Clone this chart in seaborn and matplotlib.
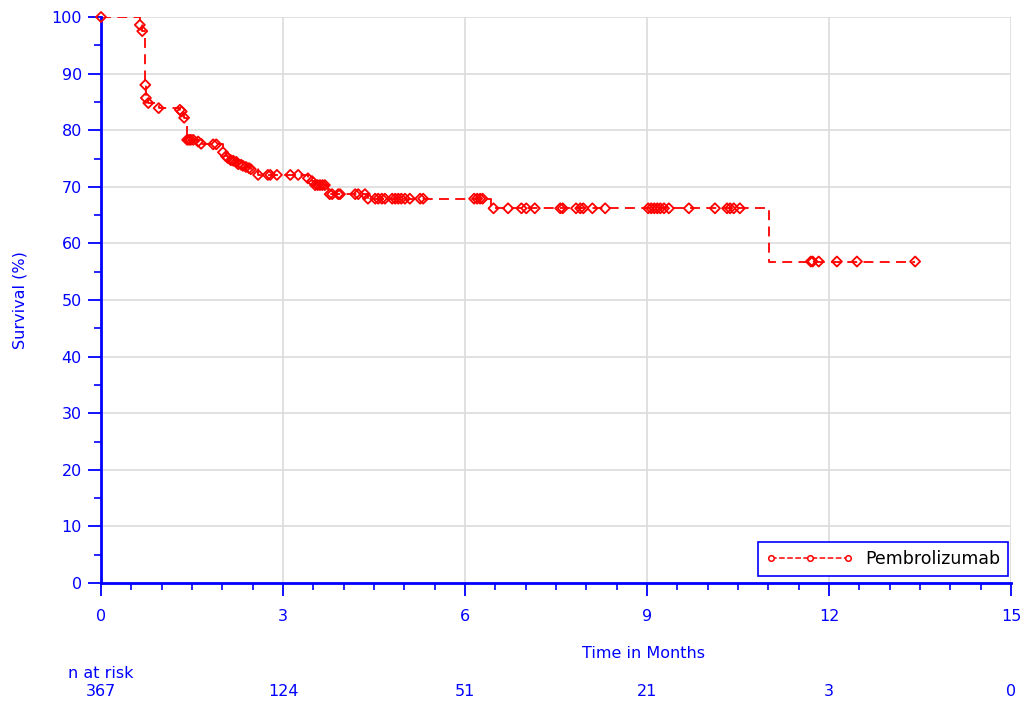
import matplotlib
matplotlib.use("Agg")
import matplotlib.pyplot as plt
import seaborn as sns
import numpy as np
import pandas as pd
from matplotlib.lines import Line2D
from matplotlib.ticker import MultipleLocator
from matplotlib.transforms import blended_transform_factory

# ---------------- data ----------------
step_times = [0.0, 0.64, 0.68, 0.73, 0.74, 0.78, 0.95, 1.30, 1.33, 1.37, 1.42, 1.60, 1.65,
              1.85, 2.01, 2.06, 2.09, 2.14, 2.18, 2.23, 2.26, 2.31, 2.34, 2.39, 2.44, 2.47,
              2.59, 3.41, 3.48, 3.53, 3.74, 4.40, 6.43, 11.01, 13.42]
step_surv = [100.0, 98.6, 97.5, 88.0, 85.7, 84.8, 83.9, 83.6, 83.3, 82.2, 78.3, 78.0, 77.6,
             77.5, 76.1, 75.4, 75.1, 74.7, 74.6, 74.4, 74.0, 73.9, 73.7, 73.5, 73.3, 73.1,
             72.1, 71.5, 71.0, 70.3, 68.7, 67.9, 66.2, 56.8, 56.8]

censor_times = [0.0, 0.64, 0.68, 0.73, 0.74, 0.78, 0.95, 1.30, 1.33, 1.37,
                1.42, 1.45, 1.48, 1.52, 1.60, 1.65, 1.85, 1.90,
                2.01, 2.06, 2.09, 2.14, 2.18, 2.23, 2.26, 2.31, 2.34, 2.39, 2.44, 2.47,
                2.59, 2.75, 2.79, 2.90, 3.12, 3.25,
                3.41, 3.48, 3.53, 3.57, 3.61, 3.65, 3.69,
                3.77, 3.81, 3.91, 3.94, 4.19, 4.24, 4.35,
                4.40, 4.52, 4.57, 4.63, 4.68, 4.80, 4.85, 4.90, 4.95, 5.01, 5.09, 5.26, 5.31,
                6.15, 6.20, 6.25, 6.29,
                6.47, 6.71, 6.93, 7.01, 7.15, 7.57, 7.61, 7.83, 7.90, 7.95, 8.10, 8.31,
                9.02, 9.07, 9.12, 9.17, 9.22, 9.28, 9.36, 9.69, 10.12, 10.32, 10.37, 10.43, 10.53,
                11.70, 11.73, 11.83, 12.13, 12.46, 13.42]
censor_surv = [100.0, 98.6, 97.5, 88.0, 85.7, 84.8, 83.9, 83.6, 83.3, 82.2,
               78.3, 78.3, 78.3, 78.3, 78.0, 77.6, 77.5, 77.5,
               76.1, 75.4, 75.1, 74.7, 74.6, 74.4, 74.0, 73.9, 73.7, 73.5, 73.3, 73.1,
               72.1, 72.1, 72.1, 72.1, 72.1, 72.1,
               71.5, 71.0, 70.3, 70.3, 70.3, 70.3, 70.3,
               68.7, 68.7, 68.7, 68.7, 68.7, 68.7, 68.7,
               67.9, 67.9, 67.9, 67.9, 67.9, 67.9, 67.9, 67.9, 67.9, 67.9, 67.9, 67.9, 67.9,
               67.9, 67.9, 67.9, 67.9,
               66.2, 66.2, 66.2, 66.2, 66.2, 66.2, 66.2, 66.2, 66.2, 66.2, 66.2, 66.2,
               66.2, 66.2, 66.2, 66.2, 66.2, 66.2, 66.2, 66.2, 66.2, 66.2, 66.2, 66.2, 66.2,
               56.8, 56.8, 56.8, 56.8, 56.8, 56.8]

risk_times = [0, 3, 6, 9, 12, 15]
risk_counts = ["367", "124", "51", "21", "3", "0"]

series_name = "Pembrolizumab"
x_ticks = [0, 3, 6, 9, 12, 15]
y_ticks = [0, 10, 20, 30, 40, 50, 60, 70, 80, 90, 100]

# ---------------- figure ----------------
BLUE = "#0000ff"
RED = "#ff0000"
plt.rcParams["font.family"] = ["DejaVu Sans"]

fig = plt.figure(figsize=(10.24, 7.02), dpi=100)
ax = fig.add_axes([101 / 1024, 119 / 702, 910 / 1024, 566 / 702])

step_df = pd.DataFrame({"t": step_times, "s": step_surv})
cens_df = pd.DataFrame({"t": censor_times, "s": censor_surv})

sns.lineplot(data=step_df, x="t", y="s", ax=ax, color=RED, lw=1.3,
             drawstyle="steps-post", sort=False, estimator=None, legend=False)
ax.lines[-1].set_dashes([5.5, 3.5])
sns.scatterplot(data=cens_df, x="t", y="s", ax=ax, marker="D", s=26,
                facecolor="none", edgecolor=RED, linewidth=1.3, clip_on=False,
                legend=False, zorder=4)

ax.set_xlim(0, 15)
ax.set_ylim(0, 100)
ax.set_xticks(x_ticks)
ax.set_yticks(y_ticks)
ax.xaxis.set_minor_locator(MultipleLocator(0.5))
ax.yaxis.set_minor_locator(MultipleLocator(5))
ax.set_xlabel("")
ax.set_ylabel("")

ax.grid(True, which="major", color="#dcdcdc", lw=1.2)
ax.set_axisbelow(True)

for side in ["top", "right"]:
    ax.spines[side].set_visible(False)
for side in ["left", "bottom"]:
    ax.spines[side].set_color(BLUE)
    ax.spines[side].set_linewidth(2.0)

ax.tick_params(axis="both", which="major", direction="out", length=9.5, width=1.3,
               color=BLUE, labelcolor=BLUE, labelsize=11.5)
ax.tick_params(axis="both", which="minor", direction="out", length=5, width=1.2, color=BLUE)
ax.tick_params(axis="x", which="major", pad=9.4)
ax.tick_params(axis="y", which="major", pad=4.3)

# axis labels
fig.text(20 / 1024, 1 - 300 / 702, "Survival (%)", rotation=90, color=BLUE,
         fontsize=11.5, ha="center", va="center")
trans = blended_transform_factory(ax.transData, ax.transAxes)
ax.text(8.95, (583 - 654) / 566, "Time in Months", transform=trans, color=BLUE,
        fontsize=11.5, ha="center", va="center")

# n at risk
ax.text(0.0, (583 - 673) / 566, "n at risk", transform=trans, color=BLUE,
        fontsize=11.5, ha="center", va="center")
for t, n in zip(risk_times, risk_counts):
    ax.text(t, (583 - 692) / 566, n, transform=trans, color=BLUE,
            fontsize=11.5, ha="center", va="center")

# legend
handle = Line2D([0], [0], color=RED, ls="--", lw=1.1, marker="o", markersize=4,
                mfc="white", mec=RED, mew=1.1)
leg = ax.legend([handle], [series_name], loc="lower right",
                bbox_to_anchor=(0.9967, 0.0124), borderaxespad=0, numpoints=3,
                handlelength=5.0, fontsize=12.5, fancybox=False, framealpha=1,
                edgecolor=BLUE, borderpad=0.45, handletextpad=0.7)
leg.get_frame().set_linewidth(1.2)
leg.set_zorder(5)

fig.savefig("out.png", dpi=100)
